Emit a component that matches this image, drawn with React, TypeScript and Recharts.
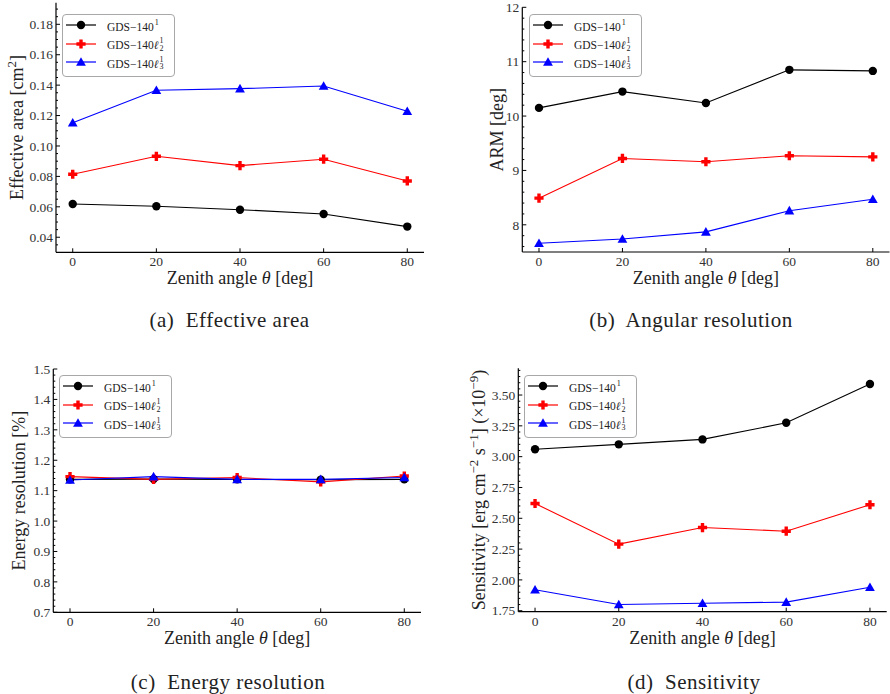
import React from "react";
import { LineChart, Line, XAxis, YAxis, Legend, Label } from "recharts";

const FONT = '"Liberation Serif", "DejaVu Serif", serif';

// zenith angles (deg)
const zenith = [0, 20, 40, 60, 80];
const xTicks = [0, 20, 40, 60, 80];

// (a) effective area [cm^2]
const areaGds = [0.0619, 0.0604, 0.0581, 0.0553, 0.047];
const areaL2 = [0.0814, 0.0932, 0.0871, 0.0913, 0.077];
const areaL3 = [0.1153, 0.1366, 0.1377, 0.1394, 0.1228];
const areaTicks = [0.04, 0.06, 0.08, 0.1, 0.12, 0.14, 0.16, 0.18];

// (b) ARM [deg]
const armGds = [10.15, 10.45, 10.24, 10.85, 10.83];
const armL2 = [8.49, 9.22, 9.16, 9.27, 9.25];
const armL3 = [7.66, 7.74, 7.87, 8.26, 8.47];
const armTicks = [8, 9, 10, 11, 12];

// (c) energy resolution [%]
const eresGds = [1.137, 1.138, 1.137, 1.136, 1.137];
const eresL2 = [1.146, 1.137, 1.143, 1.129, 1.148];
const eresL3 = [1.135, 1.146, 1.137, 1.137, 1.143];
const eresTicks = [0.7, 0.8, 0.9, 1.0, 1.1, 1.2, 1.3, 1.4, 1.5];

// (d) sensitivity (x1e-9 erg cm^-2 s^-1)
const sensGds = [3.06, 3.1, 3.14, 3.275, 3.59];
const sensL2 = [2.62, 2.29, 2.425, 2.395, 2.61];
const sensL3 = [1.92, 1.8, 1.81, 1.82, 1.94];
const sensTicks = [1.75, 2.0, 2.25, 2.5, 2.75, 3.0, 3.25, 3.5];

// stacked super/subscript for the legend labels
const Stack = ({ sub }: { sub?: string }) => (
  <span style={{ position: "relative", display: "inline-block", width: 6, height: "1em" }}>
    <span style={{ position: "absolute", left: 1, top: 0, fontSize: 8, lineHeight: "8px" }}>1</span>
    {sub && (
      <span style={{ position: "absolute", left: 1, top: 7.5, fontSize: 8, lineHeight: "8px" }}>{sub}</span>
    )}
  </span>
);

const SERIES = [
  { key: "gds", color: "#000000", marker: "circle", name: <>GDS−140<Stack /></> },
  { key: "l2", color: "#ff0000", marker: "plus", name: <>GDS−140<i>ℓ</i><Stack sub="2" /></> },
  { key: "l3", color: "#0000ff", marker: "tri", name: <>GDS−140<i>ℓ</i><Stack sub="3" /></> },
];

function Marker({ kind, cx, cy, color }: any) {
  if (kind === "circle") return <circle cx={cx} cy={cy} r={4.2} fill={color} />;
  if (kind === "plus") {
    const a = 1.7, b = 4.6;
    const d = `M${cx - a},${cy - b}H${cx + a}V${cy - a}H${cx + b}V${cy + a}H${cx + a}V${cy + b}H${cx - a}V${cy + a}H${cx - b}V${cy - a}H${cx - a}Z`;
    return <path d={d} fill={color} />;
  }
  return <path d={`M${cx},${cy - 4.8}L${cx + 4.9},${cy + 3.8}L${cx - 4.9},${cy + 3.8}Z`} fill={color} />;
}

function withMinors(domain: number[], step: number) {
  const out: number[] = [];
  const k0 = Math.ceil(domain[0] / step - 1e-6);
  const k1 = Math.floor(domain[1] / step + 1e-6);
  for (let k = k0; k <= k1; k++) out.push(Math.round(k * step * 1e6) / 1e6);
  return out;
}

const isIn = (v: number, list: number[]) => list.some((t) => Math.abs(t - v) < 1e-6);

const LegendBox = () => (
  <div
    style={{
      boxSizing: "border-box",
      width: 113,
      height: 63,
      border: "1px solid #a8a8a8",
      borderRadius: 4,
      background: "rgba(255,255,255,0.85)",
      padding: "1px 0 0 3px",
      fontFamily: FONT,
      fontSize: 11.5,
      color: "#222",
    }}
  >
    {SERIES.map((s) => (
      <div key={s.key} style={{ display: "flex", alignItems: "center", height: 18.5 }}>
        <svg width={30} height={14} style={{ flex: "none" }}>
          <line x1={0} x2={30} y1={7} y2={7} stroke={s.color} strokeWidth={1.2} />
          <Marker kind={s.marker} cx={15} cy={7} color={s.color} />
        </svg>
        <span style={{ marginLeft: 11, whiteSpace: "nowrap" }}>{s.name}</span>
      </div>
    ))}
  </div>
);

const tickText = { fontFamily: FONT, fontSize: 13.5, fill: "#333" };
const titleText = { fontFamily: FONT, fontSize: 18, fill: "#222" };

function Panel(props: any) {
  const { qx, qy, plot, domain, majors, minorStep, fmt, gds, l2, l3, yTitle, titleDx, legendAt } = props;
  const W = 445, H = 347;
  const rows = zenith.map((z, i) => ({ x: z, gds: gds[i], l2: l2[i], l3: l3[i] }));
  const yAll = withMinors(domain, minorStep);
  const margin = {
    top: plot.y0 - qy,
    left: 0,
    right: qx + W - plot.x1,
    bottom: qy + H - plot.y1 - 40,
  };
  const axisLine = { stroke: "#000", strokeWidth: 1.2 };
  return (
    <div style={{ position: "absolute", left: qx, top: qy }}>
      <LineChart width={W} height={H} data={rows} margin={margin}>
        <XAxis
          xAxisId="b"
          type="number"
          dataKey="x"
          domain={[-4, 84]}
          allowDataOverflow
          ticks={xTicks}
          interval={0}
          height={40}
          tickSize={0}
          tickMargin={0}
          tickLine={false}
          axisLine={axisLine}
          tick={(p: any) => (
            <g key={`xb${p.index}`}>
              <line x1={p.x} x2={p.x} y1={p.y} y2={p.y - 4} stroke="#000" />
              <text x={p.x} y={p.y + 14} textAnchor="middle" {...tickText}>
                {p.payload.value}
              </text>
            </g>
          )}
        >
          <Label
            content={({ viewBox }: any) => (
              <text x={viewBox.x + viewBox.width / 2} y={viewBox.y + 32} textAnchor="middle" {...titleText}>
                Zenith angle <tspan fontStyle="italic">θ</tspan> [deg]
              </text>
            )}
          />
        </XAxis>
        <XAxis
          xAxisId="t"
          orientation="top"
          type="number"
          domain={[-4, 84]}
          allowDataOverflow
          ticks={xTicks}
          interval={0}
          height={0}
          tickSize={0}
          tickMargin={0}
          tickLine={false}
          axisLine={axisLine}
          tick={(p: any) => (
            <line key={`xt${p.index}`} x1={p.x} x2={p.x} y1={p.y} y2={p.y + 4} stroke="#000" />
          )}
        />
        <YAxis
          yAxisId="l"
          type="number"
          domain={domain}
          allowDataOverflow
          ticks={yAll}
          interval={0}
          width={plot.x0 - qx}
          tickSize={0}
          tickMargin={0}
          tickLine={false}
          axisLine={axisLine}
          tick={(p: any) => {
            const major = isIn(p.payload.value, majors);
            return (
              <g key={`yl${p.index}`}>
                <line x1={p.x} x2={p.x + (major ? 4 : 2)} y1={p.y} y2={p.y} stroke="#000" />
                {major && (
                  <text x={p.x - 3} y={p.y} dy="0.35em" textAnchor="end" {...tickText}>
                    {fmt(p.payload.value)}
                  </text>
                )}
              </g>
            );
          }}
        >
          <Label
            content={({ viewBox }: any) => {
              const tx = viewBox.x + viewBox.width + titleDx;
              const ty = viewBox.y + viewBox.height / 2;
              return (
                <text x={tx} y={ty} textAnchor="middle" transform={`rotate(-90 ${tx} ${ty})`} {...titleText}>
                  {yTitle}
                </text>
              );
            }}
          />
        </YAxis>
        <YAxis
          yAxisId="r"
          orientation="right"
          type="number"
          domain={domain}
          allowDataOverflow
          ticks={yAll}
          interval={0}
          width={0}
          tickSize={0}
          tickMargin={0}
          tickLine={false}
          axisLine={axisLine}
          tick={(p: any) => {
            const major = isIn(p.payload.value, majors);
            return <line key={`yr${p.index}`} x1={p.x} x2={p.x - (major ? 4 : 2)} y1={p.y} y2={p.y} stroke="#000" />;
          }}
        />
        <Legend
          layout="vertical"
          align="center"
          verticalAlign="middle"
          content={() => <LegendBox />}
          wrapperStyle={{ left: legendAt[0] - qx, top: legendAt[1] - qy, width: "auto", height: "auto" }}
        />
        {SERIES.map((s) => (
          <Line
            key={s.key}
            xAxisId="b"
            yAxisId="l"
            dataKey={s.key}
            stroke={s.color}
            strokeWidth={1.1}
            isAnimationActive={false}
            activeDot={false}
            dot={(p: any) => <Marker key={`${s.key}${p.index}`} kind={s.marker} cx={p.cx} cy={p.cy} color={s.color} />}
          />
        ))}
      </LineChart>
    </div>
  );
}

const Caption = ({ cx, cy, text }: { cx: number; cy: number; text: string }) => (
  <div
    style={{
      position: "absolute",
      left: cx - 160,
      top: cy - 13,
      width: 320,
      height: 26,
      lineHeight: "26px",
      textAlign: "center",
      fontFamily: FONT,
      fontSize: 21,
      letterSpacing: 0.5,
      color: "#222",
      whiteSpace: "pre",
    }}
  >
    {text}
  </div>
);

const sup = (t: string) => (
  <tspan dy={-7} fontSize={13}>
    {t}
  </tspan>
);

export default function App() {
  return (
    <div style={{ position: "absolute", left: 0, top: 0, width: 890, height: 694, background: "#fff", overflow: "hidden" }}>
      <Panel
        qx={0}
        qy={0}
        plot={{ x0: 56, y0: 2.7, x1: 424, y1: 252.3 }}
        domain={[0.0301, 0.1942]}
        majors={areaTicks}
        minorStep={0.005}
        fmt={(v: number) => v.toFixed(2)}
        gds={areaGds}
        l2={areaL2}
        l3={areaL3}
        titleDx={-32.7}
        legendAt={[62, 14]}
        yTitle={
          <>
            Effective area [cm{sup("2")}
            <tspan dy={7}>]</tspan>
          </>
        }
      />
      <Panel
        qx={445}
        qy={0}
        plot={{ x0: 522.3, y0: 7.3, x1: 889.5, y1: 252 }}
        domain={[7.5, 12]}
        majors={armTicks}
        minorStep={0.2}
        fmt={(v: number) => String(v)}
        gds={armGds}
        l2={armL2}
        l3={armL3}
        titleDx={-19}
        legendAt={[529, 14]}
        yTitle={<>ARM [deg]</>}
      />
      <Panel
        qx={0}
        qy={347}
        plot={{ x0: 53.3, y0: 369, x1: 421, y1: 612.3 }}
        domain={[0.7, 1.5]}
        majors={eresTicks}
        minorStep={0.02}
        fmt={(v: number) => v.toFixed(1)}
        gds={eresGds}
        l2={eresL2}
        l3={eresL3}
        titleDx={-28.3}
        legendAt={[59, 375]}
        yTitle={<>Energy resolution [%]</>}
      />
      <Panel
        qx={445}
        qy={347}
        plot={{ x0: 518.3, y0: 368.3, x1: 886.7, y1: 611.7 }}
        domain={[1.742, 3.717]}
        majors={sensTicks}
        minorStep={0.05}
        fmt={(v: number) => v.toFixed(2)}
        gds={sensGds}
        l2={sensL2}
        l3={sensL3}
        titleDx={-33.3}
        legendAt={[524, 375]}
        yTitle={
          <>
            Sensitivity [erg cm{sup("−2")}
            <tspan dy={7}> s</tspan>
            {sup("−1")}
            <tspan dy={7}>] (×10</tspan>
            {sup("−9")}
            <tspan dy={7}>)</tspan>
          </>
        }
      />
      <Caption cx={229.5} cy={320} text="(a)  Effective area" />
      <Caption cx={691} cy={320} text="(b)  Angular resolution" />
      <Caption cx={228} cy={682} text="(c)  Energy resolution" />
      <Caption cx={694} cy={682} text="(d)  Sensitivity" />
    </div>
  );
}
